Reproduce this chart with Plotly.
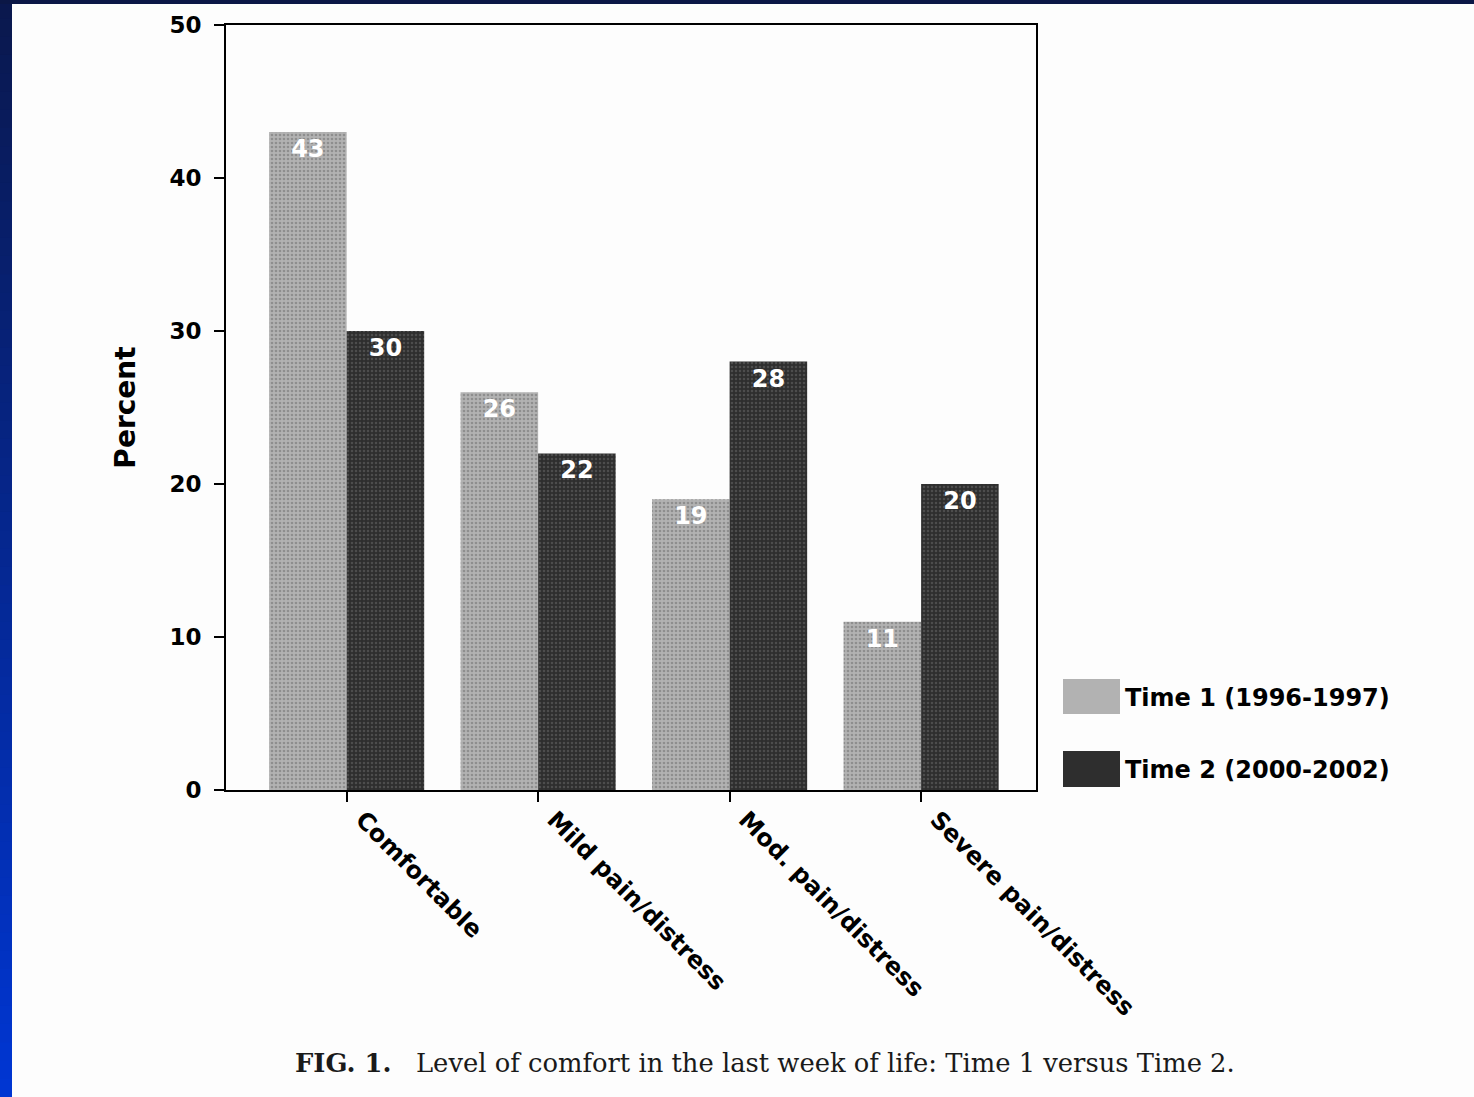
import plotly.graph_objects as go

categories = ["Comfortable", "Mild pain/distress", "Mod. pain/distress", "Severe pain/distress"]
series_names = ["Time 1 (1996-1997)", "Time 2 (2000-2002)"]
time1_values = [43, 26, 19, 11]
time2_values = [30, 22, 28, 20]
y_ticks = [0, 10, 20, 30, 40, 50]

W, H = 1474, 1097
L, R, T, B = 226, 1036, 25, 790  # plot-area pixel box


def px_x(p):
    return (p - L) / (R - L)


def px_y(p):
    return (B - p) / (B - T)


fig = go.Figure()
fig.add_trace(go.Bar(
    x=categories, y=time1_values, name=series_names[0],
    text=[str(v) for v in time1_values],
    textposition="inside", insidetextanchor="end",
    textfont=dict(family="DejaVu Sans", size=24, color="white", weight="bold"),
    marker=dict(color="#a3a3a3", line=dict(width=0),
                pattern=dict(shape=".", fgcolor="#6a6a6a", bgcolor="#b2b2b2", size=4, solidity=0.35)),
    showlegend=False,
))
fig.add_trace(go.Bar(
    x=categories, y=time2_values, name=series_names[1],
    text=[str(v) for v in time2_values],
    textposition="inside", insidetextanchor="end",
    textfont=dict(family="DejaVu Sans", size=24, color="white", weight="bold"),
    marker=dict(color="#3a3a3a", line=dict(width=0),
                pattern=dict(shape=".", fgcolor="#6c6c6c", bgcolor="#2e2e2e", size=4, solidity=0.3)),
    showlegend=False,
))

shapes = []
# blue slide border: left vertical gradient strip
n = 60
top_c = (10, 24, 78)
bot_c = (0, 54, 210)
for i in range(n):
    f = i / (n - 1)
    c = tuple(int(round(top_c[k] + (bot_c[k] - top_c[k]) * f)) for k in range(3))
    y0 = H * i / n
    y1 = H * (i + 1) / n + 1
    shapes.append(dict(type="rect", xref="paper", yref="paper",
                       x0=px_x(0), x1=px_x(12), y0=px_y(y1), y1=px_y(y0),
                       fillcolor="rgb(%d,%d,%d)" % c, line=dict(width=0), layer="above"))
# top strip
shapes.append(dict(type="rect", xref="paper", yref="paper",
                   x0=px_x(0), x1=px_x(W), y0=px_y(4), y1=px_y(0),
                   fillcolor="#0b1746", line=dict(width=0), layer="above"))

# legend swatches (drawn manually for large swatches)
leg = [(679, 714, "#a3a3a3", "#6a6a6a", "#b2b2b2"), (751, 787, "#3a3a3a", "#6c6c6c", "#2e2e2e")]
for (ya, yb, col, fg, bg) in leg:
    shapes.append(dict(type="rect", xref="paper", yref="paper",
                       x0=px_x(1063), x1=px_x(1120), y0=px_y(yb), y1=px_y(ya),
                       fillcolor=bg, line=dict(width=0)))

annotations = []
for (ya, yb, col, fg, bg), name in zip(leg, series_names):
    annotations.append(dict(xref="paper", yref="paper", x=px_x(1123), y=px_y((ya + yb) / 2 + 1),
                            text=name, showarrow=False, xanchor="left", yanchor="middle",
                            font=dict(family="DejaVu Sans", size=24, color="black", weight="bold")))

annotations.append(dict(xref="paper", yref="paper", x=px_x(293), y=px_y(1063),
                        text="<b>FIG. 1.</b>&nbsp;&nbsp;&nbsp;Level of comfort in the last week of life: Time 1 versus Time 2.",
                        showarrow=False, xanchor="left", yanchor="middle",
                        font=dict(family="DejaVu Serif", size=25.8, color="#1a1a1a")))

fig.update_layout(
    width=W, height=H,
    margin=dict(l=L, r=W - R, t=T, b=H - B, pad=0),
    paper_bgcolor="#fdfdfd", plot_bgcolor="#fdfdfd",
    barmode="group", bargap=0.19, bargroupgap=0,
    shapes=shapes, annotations=annotations,
    showlegend=False,
    font=dict(family="DejaVu Sans", color="black"),
)
fig.update_xaxes(
    range=[-0.63, 3.6], showgrid=False, zeroline=False,
    showline=True, linecolor="black", linewidth=2, mirror=True,
    ticks="outside", ticklen=10, tickwidth=2, tickcolor="black",
    tickangle=45, ticklabelshift=16, ticklabelstandoff=-6,
    tickfont=dict(family="DejaVu Sans", size=24, color="black", weight="bold"),
)
fig.update_yaxes(
    range=[0, 50], tickvals=y_ticks, showgrid=False, zeroline=False,
    showline=True, linecolor="black", linewidth=2, mirror=True,
    ticks="outside", ticklen=10, tickwidth=2, tickcolor="black",
    ticklabelstandoff=8,
    tickfont=dict(family="DejaVu Sans", size=23, color="black", weight="bold"),
    title=dict(text="Percent", standoff=26,
               font=dict(family="DejaVu Sans", size=28, color="black", weight="bold")),
)

fig.write_html("out.html", config={"displayModeBar": False},
               post_script="document.body.style.margin='0';")
